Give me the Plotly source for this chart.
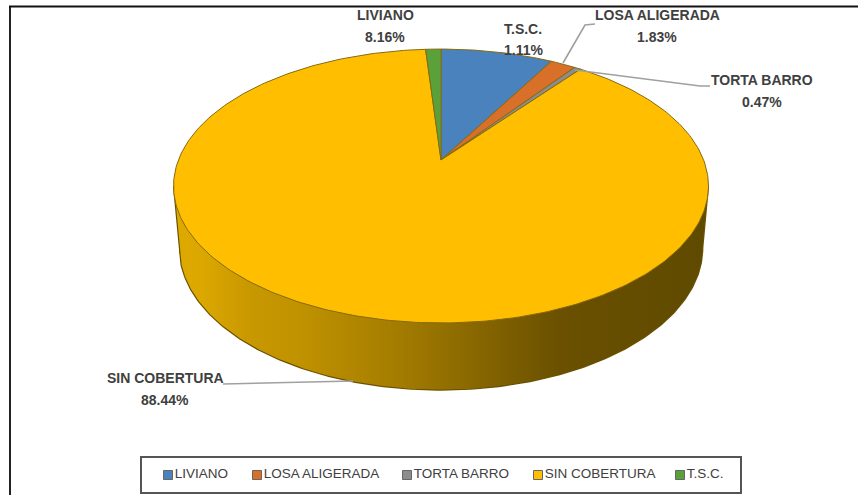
import numpy as np
import plotly.graph_objects as go

categories = ["LIVIANO", "LOSA ALIGERADA", "TORTA BARRO", "SIN COBERTURA", "T.S.C."]
values = [8.16, 1.83, 0.47, 88.44, 1.11]
colors = ["#4a82bd", "#d9702a", "#8c8c8c", "#ffbf00", "#5aa13a"]

# label centres in page pixels
label_x = [385, 657, 762, 165, 523]
label_name_y = [15, 15, 80, 378, 29]
label_pct_y = [37, 37, 102, 400, 50]

# legend swatch centres
legend_x = [168, 257, 407, 538, 680]
legend_y = 475

# leader lines, page pixels
leader_losa = ([563, 585, 595], [63, 25, 24])
leader_torta = ([575, 700, 710], [70, 86, 86])
leader_sin = ([223, 330, 353], [384, 382, 381])

# side wall shading, left to right
wall_x = [173, 200, 250, 300, 390, 450, 500, 560, 708]
wall_col = ["#deaa00", "#dca800", "#c89800", "#c09200", "#a67e00",
            "#916e00", "#7f6000", "#6a5000", "#5f4a00"]

W, H = 859, 495
CX = 441
TILT = 0.19
TOP = dict(a=262.6, b=132, y0=160)
BASE = dict(a=257, b=137, y0=221)


def project(theta, lvl):
    # clockwise angle from 12 o'clock, simple perspective of a circle
    u, v = np.sin(theta), np.cos(theta)
    w = 1 + TILT * v
    return CX + lvl["a"] * u / w, lvl["y0"] - lvl["b"] * v / w


fig = go.Figure()

# front half of the rim, between the widest points of the ellipse
t_side = np.arcsin(TILT)
rim = np.linspace(3 * np.pi / 2 - t_side, np.pi / 2 + t_side, 241)
xt, yt = project(rim, TOP)
xb, yb = project(rim, BASE)
out_x = np.r_[xt[0], xb, xt[-1]]
out_y = np.r_[yt[0], yb, yt[-1]]

# wall as a shaded image, masked to the rim outline
px = np.arange(0.5, W, 1.0)
py = np.arange(0.5, H, 1.0)
upper = np.interp(px, xt, yt)
lower = np.interp(px, out_x, out_y)
inside = (px >= out_x[0]) & (px <= out_x[-1])
z = np.full((H, W), np.nan)
for i in np.where(inside)[0]:
    z[(py >= upper[i] - 2) & (py <= lower[i]), i] = px[i]
scale = [[(x - wall_x[0]) / (wall_x[-1] - wall_x[0]), c] for x, c in zip(wall_x, wall_col)]
fig.add_trace(go.Heatmap(
    x=px, y=py, z=z, colorscale=scale, zmin=wall_x[0], zmax=wall_x[-1],
    showscale=False, hoverinfo="skip",
))
fig.add_trace(go.Scatter(
    x=out_x, y=out_y, mode="lines", line={"color": "#6b5200", "width": 1.2},
    hoverinfo="skip", showlegend=False,
))

# top face
edges = np.r_[0, np.cumsum(values)] / sum(values) * 2 * np.pi
for name, c, t0, t1 in zip(categories, colors, edges[:-1], edges[1:]):
    ts = np.linspace(t0, t1, max(3, int((t1 - t0) * 60)))
    xs, ys = project(ts, TOP)
    fig.add_trace(go.Scatter(
        x=np.r_[CX, xs, CX], y=np.r_[TOP["y0"], ys, TOP["y0"]],
        mode="lines", fill="toself", fillcolor=c,
        line={"color": "#856a10", "width": 1},
        name=name, showlegend=False,
    ))

# leaders
for lx, ly in (leader_losa, leader_torta, leader_sin):
    fig.add_trace(go.Scatter(
        x=lx, y=ly, mode="lines", line={"color": "#a0a0a0", "width": 1.6},
        hoverinfo="skip", showlegend=False,
    ))

# legend row
fig.add_trace(go.Scatter(
    x=legend_x, y=[legend_y] * len(legend_x), mode="markers+text",
    text=categories, textposition="middle right",
    textfont={"size": 13.5, "color": "#404040"},
    marker={"symbol": "square", "size": 9, "color": colors, "line": {"color": "#666666", "width": 1}},
    hoverinfo="skip", showlegend=False,
))

for name, v, x, y1, y2 in zip(categories, values, label_x, label_name_y, label_pct_y):
    fig.add_annotation(x=x, y=y1, text=f"<b>{name}</b>", showarrow=False,
                       font={"size": 14, "color": "#404040"})
    fig.add_annotation(x=x, y=y2, text=f"<b>{v:.2f}%</b>", showarrow=False,
                       font={"size": 14, "color": "#404040"})

# page frame and legend box
fig.add_shape(type="line", x0=10, x1=10, y0=6, y1=H, line={"color": "#222222", "width": 2})
fig.add_shape(type="line", x0=9, x1=858, y0=6.5, y1=6.5, line={"color": "#111111", "width": 2})
fig.add_shape(type="rect", x0=141, x1=741, y0=457, y1=493, line={"color": "#555555", "width": 2})

fig.update_layout(
    width=W, height=H, margin={"l": 0, "r": 0, "t": 0, "b": 0},
    paper_bgcolor="white", plot_bgcolor="white",
    font={"family": "Liberation Sans, sans-serif"},
    xaxis={"range": [0, W], "visible": False, "fixedrange": True},
    yaxis={"range": [H, 0], "visible": False, "fixedrange": True},
)

fig.write_html("out.html", config={"displayModeBar": False},
               post_script="document.body.style.margin='0';")
